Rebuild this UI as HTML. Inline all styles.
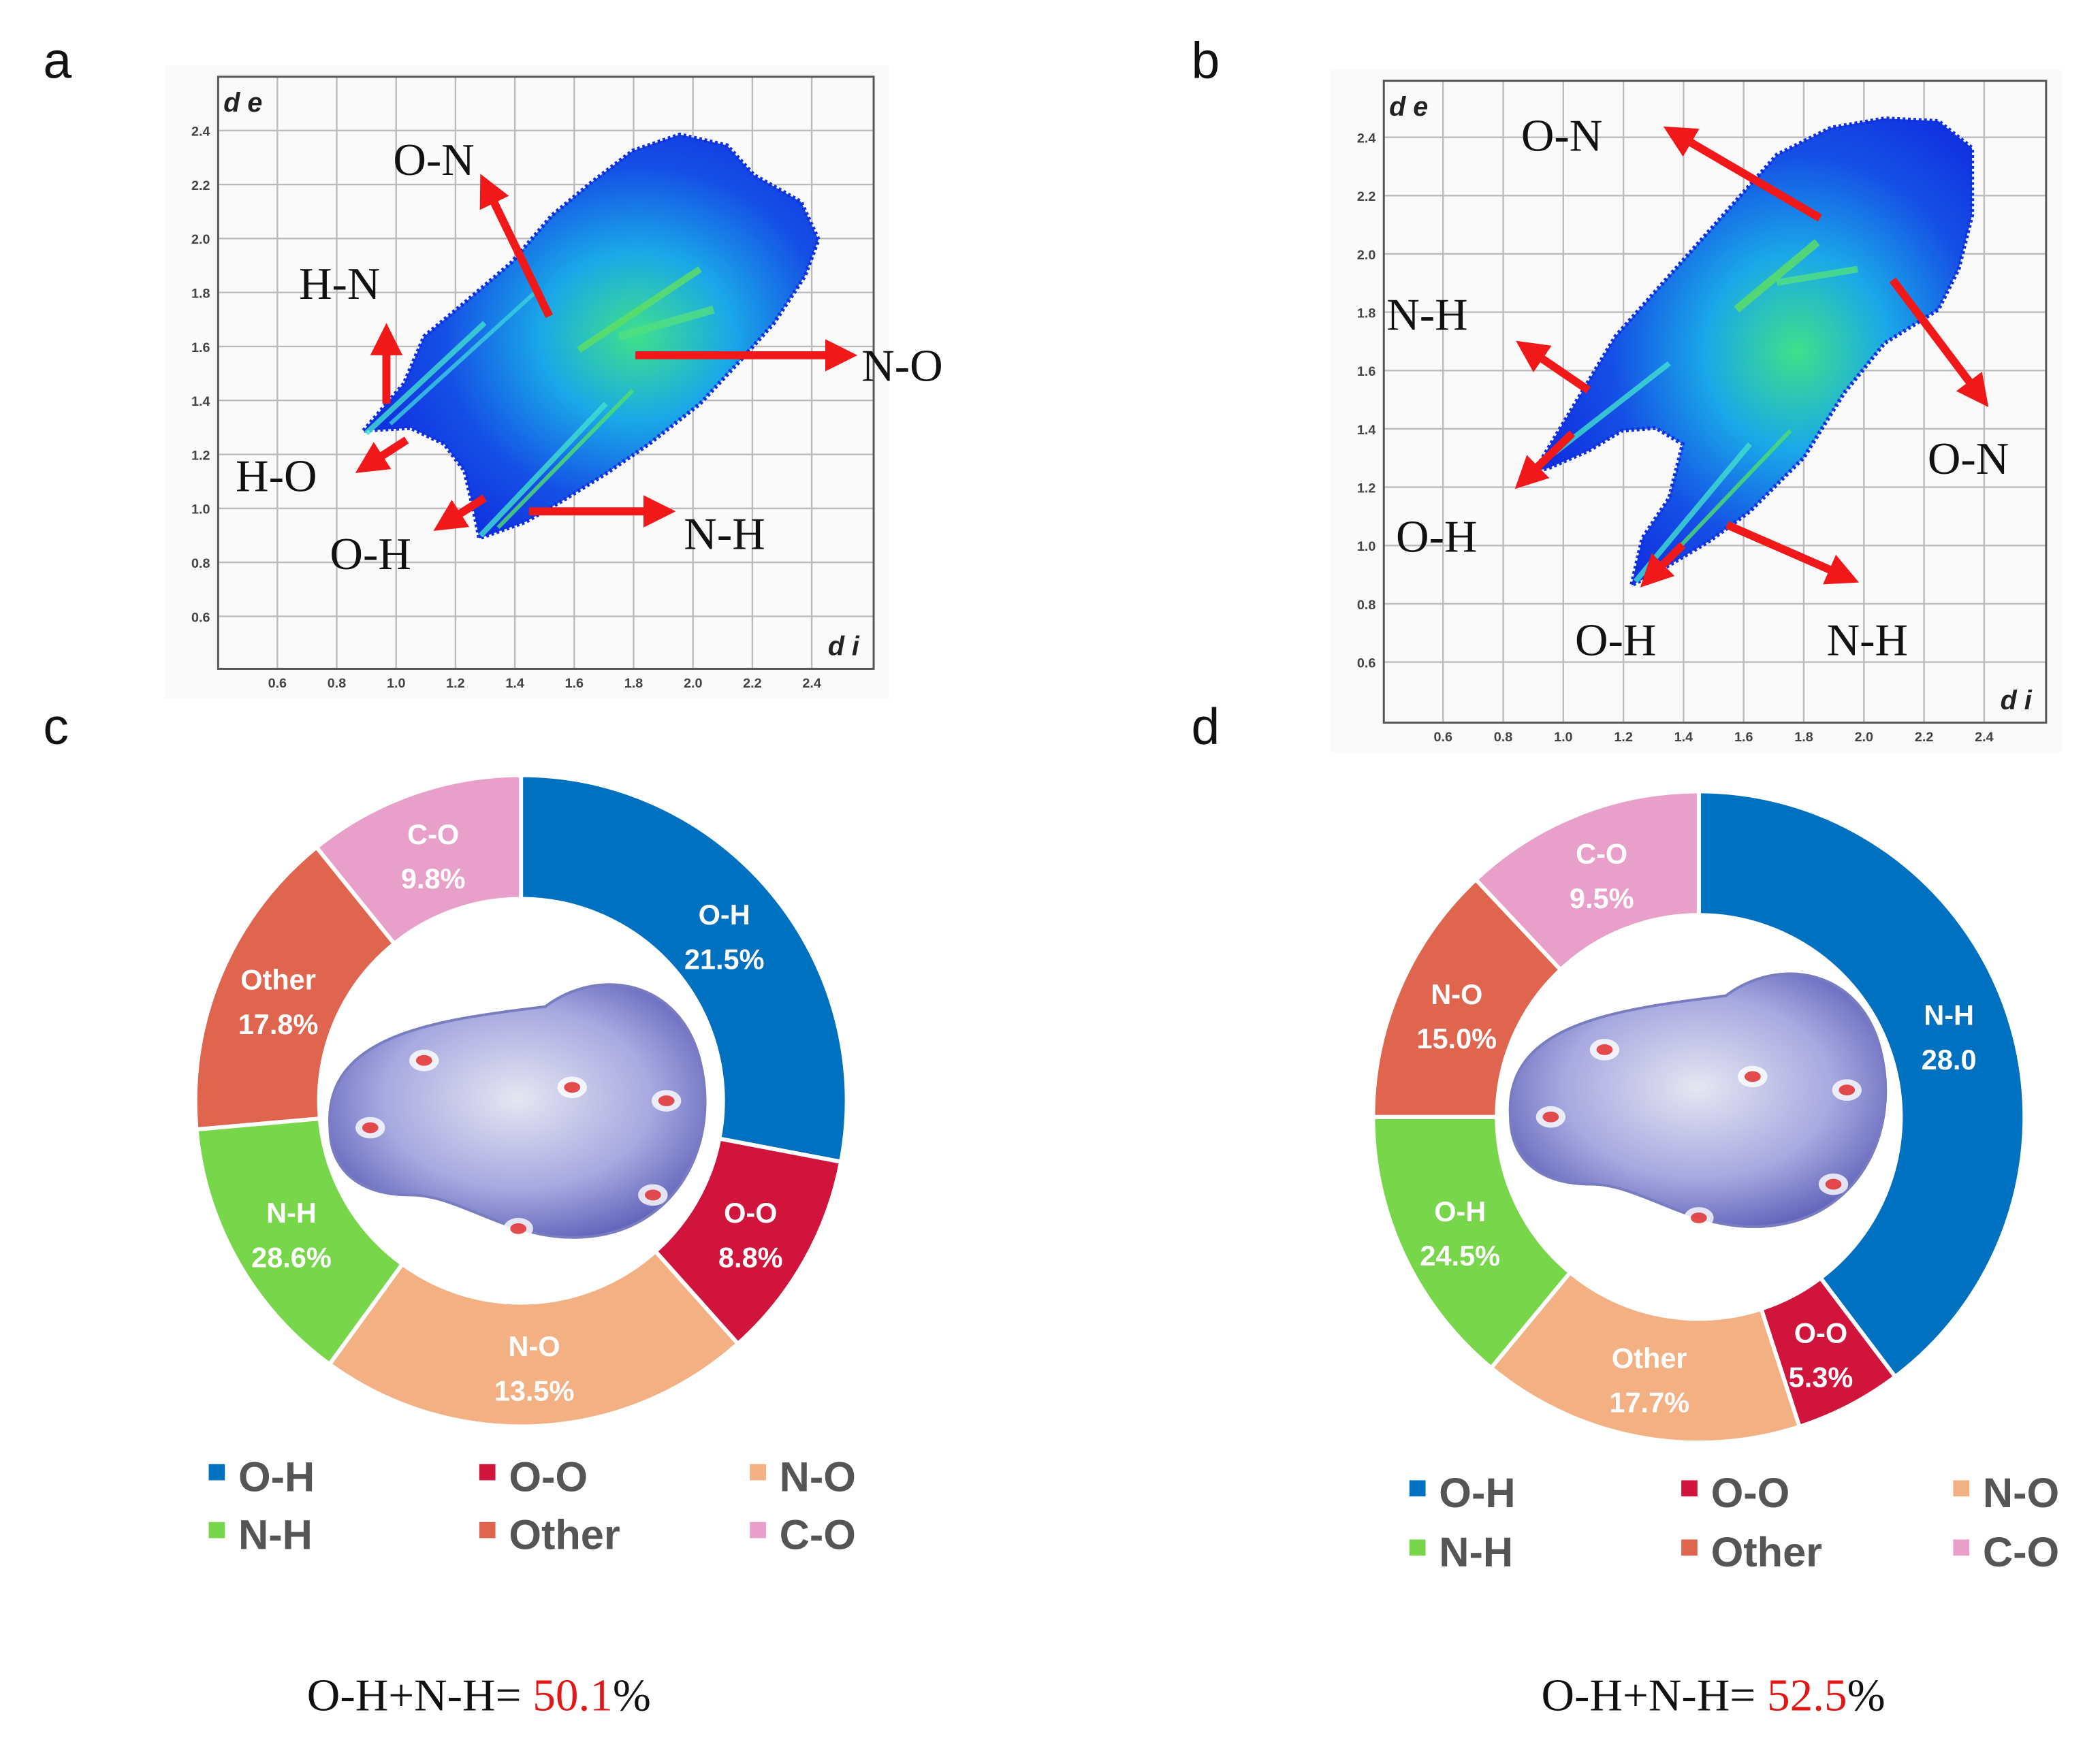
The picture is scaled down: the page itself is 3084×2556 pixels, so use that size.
<!DOCTYPE html>
<html><head><meta charset="utf-8"><style>
html,body{margin:0;padding:0;background:#fff;}
svg{display:block;}
.lbl{font-family:"Liberation Serif",serif;font-size:34px;fill:#111;}
.tick{font-family:"Liberation Sans",sans-serif;font-size:10px;fill:#444;font-weight:bold;}
.pl{font-family:"Liberation Sans",sans-serif;font-size:38px;fill:#111;}
.sl{font-family:"Liberation Sans",sans-serif;font-size:21px;font-weight:bold;fill:#fff;}
.lg{font-family:"Liberation Sans",sans-serif;font-size:31px;font-weight:bold;fill:#555;}
.sum{font-family:"Liberation Serif",serif;font-size:34px;fill:#111;}
</style></head><body>
<svg id="fig" width="3084" height="2556" viewBox="0 0 1560 1293" xmlns="http://www.w3.org/2000/svg">
<defs>
<radialGradient id="blobg" cx="0.6" cy="0.5" r="0.6"><stop offset="0" stop-color="#3fe08a"/><stop offset="0.35" stop-color="#1aa8e8"/><stop offset="0.7" stop-color="#1550e6"/><stop offset="1" stop-color="#1030e0"/></radialGradient>
<radialGradient id="molg" cx="0.5" cy="0.45" r="0.6"><stop offset="0" stop-color="#e6e6f2"/><stop offset="0.6" stop-color="#a6a8e0"/><stop offset="1" stop-color="#5d5fb8"/></radialGradient>
<marker id="ah" markerWidth="4" markerHeight="4" refX="2" refY="2" orient="auto" markerUnits="strokeWidth"><path d="M0,0 L4,2 L0,4 z" fill="#f01818"/></marker>
</defs>
<g id="panels"></g>
<g id="donuts"></g>
</svg>
<script>
// ---------- data ----------
const ticks = [0.6,0.8,1.0,1.2,1.4,1.6,1.8,2.0,2.2,2.4];
const tickLabels = ["0.6","0.8","1.0","1.2","1.4","1.6","1.8","2.0","2.2","2.4"];
const cCategories = ["O-H","O-O","N-O","N-H","Other","C-O"];
const cShares = [28,10.4,21.6,13.6,15.6,10.8];
const cLabels = ["21.5%","8.8%","13.5%","28.6%","17.8%","9.8%"];
const cColors = ["#0070c0","#d0143c","#f2b083","#77d649","#e0654f","#e89fc9"];
const dCategories = ["N-H","O-O","Other","O-H","N-O","C-O"];
const dShares = [39.7,5.3,16,14,13,12];
const dLabels = ["28.0","5.3%","17.7%","24.5%","15.0%","9.5%"];
const dColors = ["#0070c0","#d0143c","#f2b083","#77d649","#e0654f","#e89fc9"];
const legendNames = ["O-H","O-O","N-O","N-H","Other","C-O"];
const legendColors = ["#0070c0","#d0143c","#f2b083","#77d649","#e0654f","#e89fc9"];
// ---------- helpers ----------
const NS="http://www.w3.org/2000/svg";
function mk(tag,attrs,parent,text){const e=document.createElementNS(NS,tag);for(const k in attrs)e.setAttribute(k,attrs[k]);if(text!==undefined)e.textContent=text;parent.appendChild(e);return e;}
const P=document.getElementById('panels');
// panel letters
[["a",32,58],["b",885,58],["c",32,553],["d",885,553]].forEach(l=>{
 const t=mk('text',{x:l[1],y:l[2],class:'pl'},P,l[0]);
 
 
});
function fingerprint(id,box,x0,x1,y0,y1,blob,streaks,arrows,labels){
 const g=mk('g',{},P);
 
 
 mk('rect',{x:box[0]-40,y:box[1]-8,width:box[2]-box[0]+52,height:box[3]-box[1]+30,fill:'#fafafa'},g);
 const xs=v=>x0[0]+(v-0.6)/(2.4-0.6)*(x1[0]-x0[0]);
 const ys=v=>y0[0]+(v-0.6)/(2.4-0.6)*(y1[0]-y0[0]);
 for(let i=0;i<ticks.length;i++){
  const gx=mk('line',{x1:xs(ticks[i]),x2:xs(ticks[i]),y1:box[1],y2:box[3],stroke:'#bbb','stroke-width':1.2},g);
  
  const gy=mk('line',{x1:box[0],x2:box[2],y1:ys(ticks[i]),y2:ys(ticks[i]),stroke:'#bbb','stroke-width':1.2},g);
  
  const tx=mk('text',{x:xs(ticks[i]),y:box[3]+14,class:'tick','text-anchor':'middle'},g,tickLabels[i]);
  
  const ty=mk('text',{x:box[0]-6,y:ys(ticks[i])+4,class:'tick','text-anchor':'end'},g,tickLabels[i]);
  
 }
 mk('rect',{x:box[0],y:box[1],width:box[2]-box[0],height:box[3]-box[1],fill:'none',stroke:'#555','stroke-width':1.5},g);
 const de=mk('text',{x:box[0]+4,y:box[1]+26,'font-family':'Liberation Sans,sans-serif','font-size':20,'font-weight':'bold','font-style':'italic',fill:'#222'},g,'d e');
 
 const di=mk('text',{x:box[2]-34,y:box[3]-10,'font-family':'Liberation Sans,sans-serif','font-size':20,'font-weight':'bold','font-style':'italic',fill:'#222'},g,'d i');
 
 const b=mk('polygon',{points:blob.map(p=>p.join(',')).join(' '),fill:'url(#blobg)',stroke:'#1030e0','stroke-width':3,'stroke-dasharray':'2 2'},g);
 
 streaks.forEach(s=>{const l=mk('line',{x1:s[0],y1:s[1],x2:s[2],y2:s[3],stroke:s[4],'stroke-width':s[5],opacity:0.8},g);
  });
 arrows.forEach(a=>{const l=mk('line',{x1:a[0],y1:a[1],x2:a[2],y2:a[3],stroke:'#f01818','stroke-width':6,'marker-end':'url(#ah)'},g);
  });
 labels.forEach(t=>{const e=mk('text',{x:t[1],y:t[2],class:'lbl'},g,t[0]);
  });
}
fingerprint('a',[162,57,649,497],[206],[603],[458],[97],
 [[270,320],[300,285],[315,250],[345,225],[380,195],[410,160],[440,135],[470,112],[505,100],[540,108],[560,130],[595,150],[608,178],[598,205],[575,240],[548,270],[520,300],[482,330],[450,352],[418,372],[390,388],[356,400],[352,380],[345,350],[330,330],[305,318]],
 [[272,322,360,240,'#40e0d0',4],[290,315,400,215,'#3cd0e0',3],[357,398,450,300,'#40e0d0',4],[370,392,470,290,'#50e070',3],[430,260,520,200,'#60e060',5],[460,250,530,230,'#50e080',6]],
 [[408,235,362,140],[287,300,287,252],[302,327,274,345],[360,370,332,388],[393,380,490,380],[472,264,625,264]],
 [["O-N",292,130],["H-N",222,222],["N-O",640,283],["H-O",175,365],["O-H",245,423],["N-H",508,408]]);
fingerprint('b',[1028,60,1520,537],[1072],[1474],[492],[102],
 [[1140,350],[1170,300],[1200,250],[1240,205],[1280,160],[1320,115],[1360,95],[1400,88],[1440,90],[1465,110],[1465,160],[1455,200],[1440,230],[1400,255],[1370,292],[1340,340],[1300,380],[1270,402],[1240,420],[1212,435],[1220,400],[1240,370],[1250,330],[1230,318],[1205,320],[1180,335],[1150,348]],
 [[1140,348,1240,270,'#40e0d0',4],[1215,432,1300,330,'#40e0d0',4],[1230,425,1330,320,'#50e070',3],[1290,230,1350,180,'#60e060',6],[1320,210,1380,200,'#50e080',5]],
 [[1352,162,1246,100],[1180,290,1136,260],[1168,322,1134,355],[1406,208,1470,293],[1250,405,1227,428],[1283,390,1370,428]],
 [["O-N",1130,112],["N-H",1030,245],["O-N",1432,352],["O-H",1037,410],["O-H",1170,487],["N-H",1357,487]]);
// ---------- donuts ----------
const D=document.getElementById('donuts');
function donut(id,cx,cy,R,r,shares,cats,labels,colors,molcx,molcy){
 const g=mk('g',{},D);
 
 
 const tot=shares.reduce((a,b)=>a+b,0);
 let acc=0;
 const pt=(ang,rad)=>[cx+rad*Math.sin(ang),cy-rad*Math.cos(ang)];
 shares.forEach((v,i)=>{
  const a0=acc/tot*2*Math.PI;acc+=v;const a1=acc/tot*2*Math.PI;
  const large=(a1-a0)>Math.PI?1:0;
  const p1=pt(a0,R),p2=pt(a1,R),p3=pt(a1,r),p4=pt(a0,r);
  const path=mk('path',{d:`M${p1} A${R},${R} 0 ${large} 1 ${p2} L${p3} A${r},${r} 0 ${large} 0 ${p4} Z`,fill:colors[i],stroke:'#fff','stroke-width':3},g);
  
  
  const m=(a0+a1)/2,lp=pt(m,(R+r)/2);
  const t1=mk('text',{x:lp[0],y:lp[1]-6,class:'sl','text-anchor':'middle'},g,cats[i]);
  
  const t2=mk('text',{x:lp[0],y:lp[1]+27,class:'sl','text-anchor':'middle'},g,labels[i]);
  
 });
 const mol=mk('g',{},g);
 
 
 mk('path',{d:`M${molcx-140},${molcy+10} C${molcx-145},${molcy-60} ${molcx-60},${molcy-70} ${molcx+20},${molcy-80} C${molcx+60},${molcy-110} ${molcx+120},${molcy-100} ${molcx+135},${molcy-40} C${molcx+150},${molcy+20} ${molcx+120},${molcy+80} ${molcx+60},${molcy+90} C${molcx},${molcy+100} ${molcx-40},${molcy+60} ${molcx-80},${molcy+60} C${molcx-120},${molcy+60} ${molcx-140},${molcy+40} ${molcx-140},${molcy+10} Z`,fill:'url(#molg)',stroke:'#7a7cc0','stroke-width':2},mol);
 [[-70,-40],[40,-20],[110,-10],[100,60],[-110,10],[0,85]].forEach(o=>{
  mk('ellipse',{cx:molcx+o[0],cy:molcy+o[1],rx:11,ry:8,fill:'#fff',opacity:0.8},mol);
  mk('ellipse',{cx:molcx+o[0],cy:molcy+o[1],rx:6,ry:4,fill:'#e02020',opacity:0.8},mol);
 });
}
donut('c',387,818,242,150,cShares,cCategories,cLabels,cColors,385,828);
donut('d',1262,830,242,150,dShares,dCategories,dLabels,dColors,1262,820);
// legends
function legend(id,x0,y0,dx,dy){
 const g=mk('g',{},D);
 
 
 legendNames.forEach((n,i)=>{
  const x=x0+(i%3)*dx,y=y0+Math.floor(i/3)*dy;
  const e=mk('g',{},g);
  
  
  mk('rect',{x:x,y:y-12,width:12,height:12,fill:legendColors[i]},e);
  mk('text',{x:x+22,y:y+8,class:'lg'},e,n);
 });
}
legend('c',155,1100,201,43);
legend('d',1047,1112,202,44);
// sums
[["c",228,1271,"50.1"],["d",1145,1271,"52.5"]].forEach(s=>{
 const t=mk('text',{x:s[1],y:s[2],class:'sum'},D);
 
 
 mk('tspan',{},t,'O-H+N-H= ');
 mk('tspan',{fill:'#e01818'},t,s[3]);
 mk('tspan',{},t,'%');
});
</script>
</body></html>
